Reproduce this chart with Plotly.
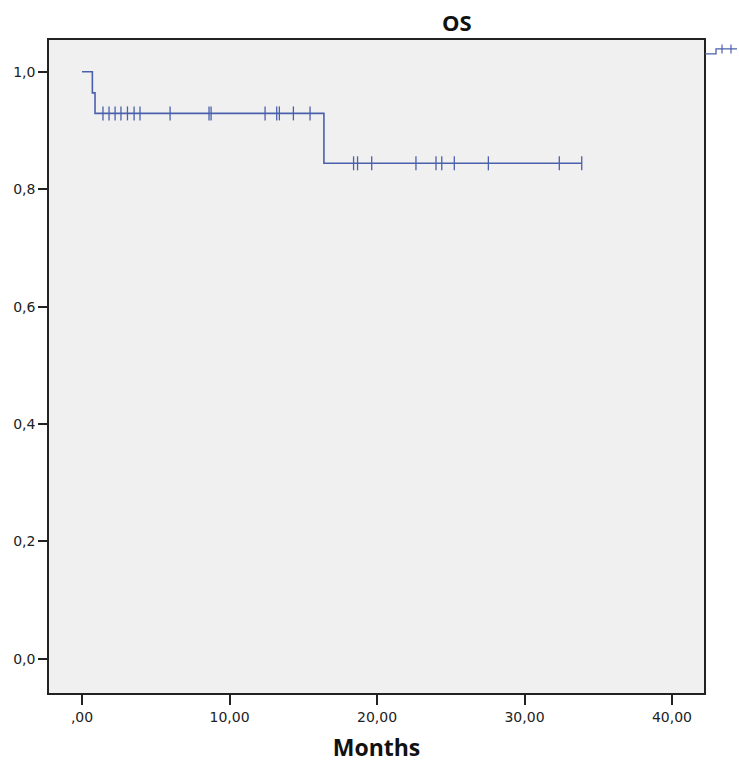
import plotly.graph_objects as go

# Kaplan-Meier step data
step_times = [0.0, 0.70, 0.88, 16.40]
step_surv = [1.0, 0.964, 0.929, 0.844]
end_time = 33.88

censor_times = [1.42, 1.83, 2.24, 2.64, 3.08, 3.53, 3.93, 5.97, 8.61, 8.75,
                12.41, 13.20, 13.38, 14.33, 15.46,
                18.41, 18.68, 19.64, 22.64, 24.00, 24.39, 25.24, 27.55, 32.36, 33.88]

x_tickvals = [0, 10, 20, 30, 40]
x_ticktext = [",00", "10,00", "20,00", "30,00", "40,00"]
y_tickvals = [0.0, 0.2, 0.4, 0.6, 0.8, 1.0]
y_ticktext = ["0,0", "0,2", "0,4", "0,6", "0,8", "1,0"]

title_text = "OS"
x_title = "Months"

line_color = "#4a60ac"


def surv_at(t):
    s = step_surv[0]
    for st, sv in zip(step_times, step_surv):
        if t >= st:
            s = sv
    return s


line_x = step_times + [end_time]
line_y = step_surv + [step_surv[-1]]
cens_y = [surv_at(t) for t in censor_times]

fig = go.Figure()
fig.add_trace(go.Scatter(x=line_x, y=line_y, mode="lines", line_shape="hv",
                         line=dict(color=line_color, width=1.6), showlegend=False,
                         hoverinfo="skip"))
fig.add_trace(go.Scatter(x=censor_times, y=cens_y, mode="markers",
                         marker=dict(symbol="line-ns-open", size=10, color=line_color,
                                     line=dict(color=line_color, width=1.3)),
                         showlegend=False))

W, H = 739, 769
L, R, T, B = 49, 35, 40, 74
pw = W - L - R
ph = H - T - B


def px(xp):
    return (xp - L) / pw


def py(yp):
    return (H - B - yp) / ph


# small clipped legend symbol at top right (outside the frame)
shapes = [
    dict(type="path", xref="paper", yref="paper",
         path=f"M {px(705)},{py(54)} L {px(716)},{py(54)} L {px(716)},{py(49)} L {px(737)},{py(49)}",
         line=dict(color=line_color, width=1.3)),
    dict(type="line", xref="paper", yref="paper", x0=px(722), x1=px(722), y0=py(44.5), y1=py(53.5),
         line=dict(color=line_color, width=1.2)),
    dict(type="line", xref="paper", yref="paper", x0=px(731), x1=px(731), y0=py(44.5), y1=py(53.5),
         line=dict(color=line_color, width=1.2)),
]

fig.update_layout(
    width=W, height=H,
    margin=dict(l=L, r=R, t=T, b=B, pad=0),
    paper_bgcolor="white",
    plot_bgcolor="#f0f0f0",
    shapes=shapes,
    annotations=[dict(text=f"<b>{title_text}</b>", xref="paper", yref="paper",
                      x=px(457), y=py(22), xanchor="center", yanchor="middle",
                      showarrow=False, font=dict(family="Open Sans", size=22, color="#111"))],
    font=dict(family="DejaVu Sans", size=14, color="#222"),
)

fig.update_xaxes(range=[-2.24, 42.17], tickvals=x_tickvals, ticktext=x_ticktext,
                 showgrid=False, zeroline=False, ticks="outside", ticklen=10,
                 tickwidth=1.5, tickcolor="#222", showline=True, mirror=True,
                 linecolor="#222", linewidth=1.5,
                 title=dict(text=f"<b>{x_title}</b>", standoff=16,
                            font=dict(family="Open Sans", size=23, color="#111")))
fig.update_yaxes(range=[-0.058, 1.054], tickvals=y_tickvals, ticktext=y_ticktext,
                 showgrid=False, zeroline=False, ticks="outside", ticklen=9,
                 tickwidth=1.5, tickcolor="#222", showline=True, mirror=True,
                 linecolor="#222", linewidth=1.5)

fig.write_html("out.html", config={"displayModeBar": False},
               post_script="document.body.style.margin='0';document.body.style.overflow='hidden';")
